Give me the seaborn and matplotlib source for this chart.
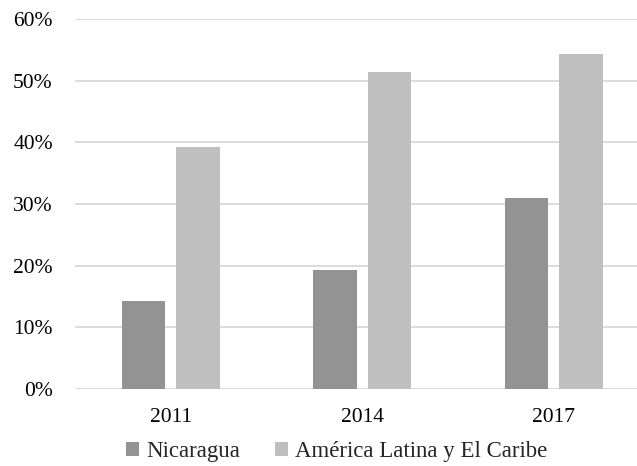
import matplotlib
matplotlib.use("Agg")
import matplotlib.pyplot as plt
import seaborn as sns
import pandas as pd
from matplotlib.ticker import FuncFormatter, MultipleLocator

# Data (percent)
years = ["2011", "2014", "2017"]
series = ["Nicaragua", "América Latina y El Caribe"]
nicaragua = [14.2, 19.3, 30.9]
america_latina = [39.3, 51.4, 54.4]
colors = ["#939393", "#bfbfbf"]

df = pd.DataFrame({
    "year": years * 2,
    "region": [series[0]] * len(years) + [series[1]] * len(years),
    "value": nicaragua + america_latina,
})

sns.set_theme(style="white")
serif = ["Liberation Serif", "DejaVu Serif"]
plt.rcParams["font.family"] = serif

fig = plt.figure(figsize=(6.37, 4.66), dpi=100)
ax = fig.add_axes([75 / 637, 1 - 389 / 466, 574.5 / 637, 370 / 466])

sns.barplot(data=df, x="year", y="value", hue="region", order=years,
            hue_order=series, palette=colors, width=0.569, gap=0.21,
            saturation=1, edgecolor="none", ax=ax, legend=True, zorder=3)

ax.set_ylim(0, 60)
ax.yaxis.set_major_locator(MultipleLocator(10))
ax.yaxis.set_major_formatter(FuncFormatter(lambda v, _: f"{v:.0f}%"))
ax.grid(axis="y", color="#d9d9d9", linewidth=1.3, zorder=0)
ax.set_axisbelow(True)
for s in ax.spines.values():
    s.set_visible(False)
ax.set_xlabel("")
ax.set_ylabel("")
ax.tick_params(axis="both", length=0, labelsize=15.5, colors="#000000")
ax.tick_params(axis="y", pad=16)
ax.tick_params(axis="x", pad=14)

handles, labels = ax.get_legend_handles_labels()
ax.get_legend().remove()
fig.legend(handles, labels, loc="center", bbox_to_anchor=(336.7 / 637, 1 - 452 / 466),
           ncol=2, frameon=False, prop={"family": serif, "size": 16.5},
           handlelength=0.55, handleheight=0.55,
           handletextpad=0.3, columnspacing=1.55, borderpad=0)

fig.savefig("out.png", dpi=100)
